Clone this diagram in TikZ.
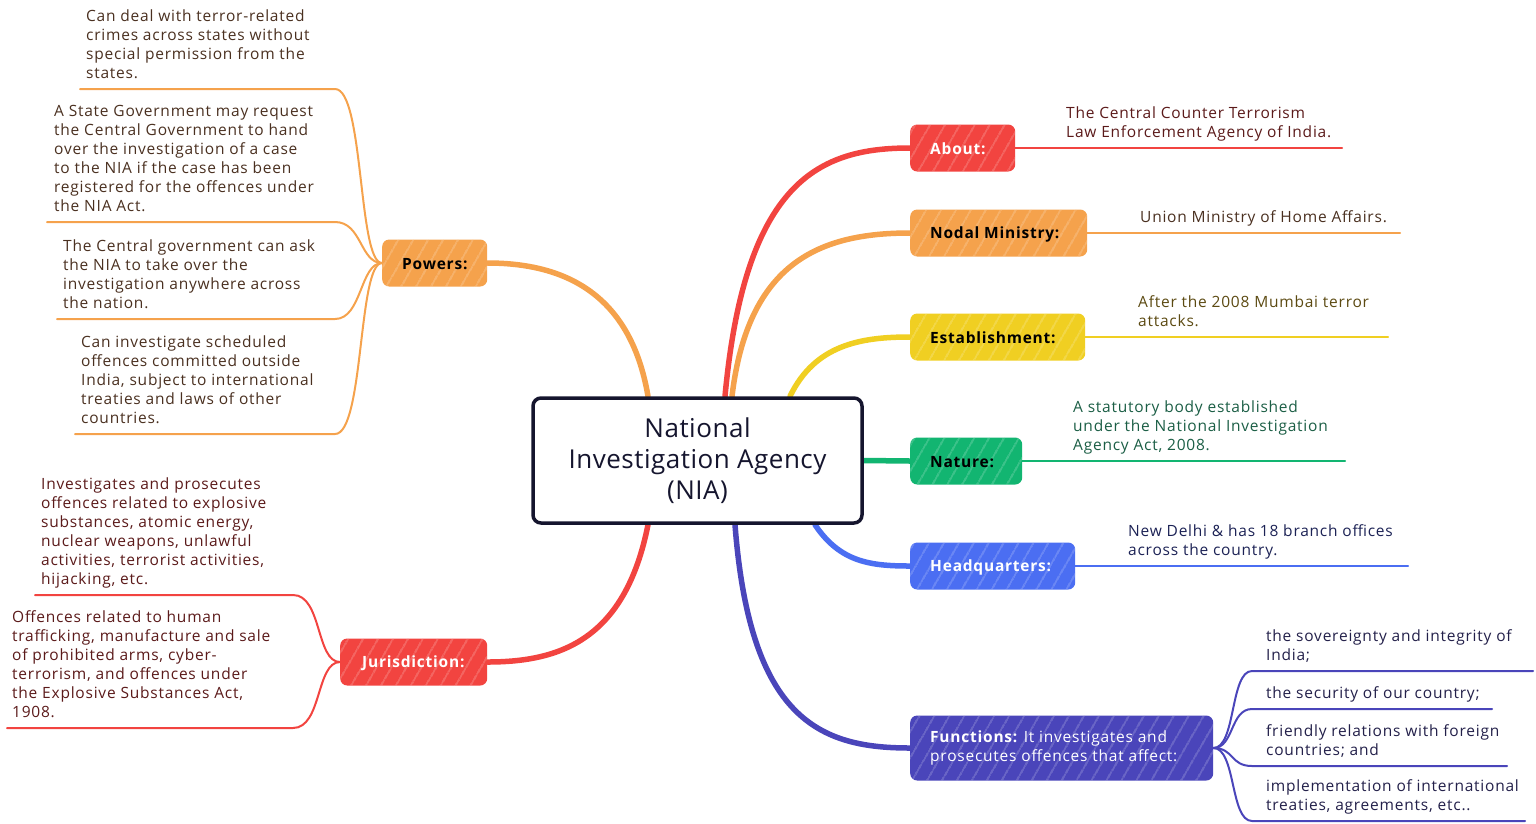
\documentclass[tikz,border=0pt]{standalone}
\usepackage{fontspec}
\setmainfont{Open Sans}[LetterSpace=5]
\newfontfamily\centerfont{Open Sans}[LetterSpace=2]
\usetikzlibrary{patterns.meta,backgrounds}
\definecolor{cred}{HTML}{F24440}
\definecolor{corange}{HTML}{F5A24C}
\definecolor{cyellow}{HTML}{F0CF22}
\definecolor{cgreen}{HTML}{12B571}
\definecolor{cblue}{HTML}{4B6EF2}
\definecolor{cindigo}{HTML}{4A45BA}
\definecolor{tred}{HTML}{5B1A1A}
\definecolor{torange}{HTML}{4A3020}
\definecolor{tyellow}{HTML}{5C4A12}
\definecolor{tgreen}{HTML}{1B5E45}
\definecolor{tblue}{HTML}{1C2255}
\definecolor{tindigo}{HTML}{23204A}
\definecolor{cnavy}{HTML}{15152E}
\tikzset{
  branchbox/.style={fill=#1, draw=none, rounded corners=7pt, minimum height=47pt, inner sep=0pt,
    postaction={pattern={Lines[angle=60,distance=13pt,line width=0.7pt]}, pattern color=white!50!#1}},
  btext/.style={font=\fontsize{15.5}{19}\selectfont\bfseries, inner sep=0pt, align=left},
  lt/.style={font=\fontsize{15.5}{19}\selectfont, inner sep=0pt, align=left, anchor=south west},
  mainline/.style={draw=#1, line width=5.5pt, line cap=round},
  leafline/.style={draw=#1, line width=2pt, line cap=round},
}
\begin{document}
\begin{tikzpicture}[x=1pt,y=-1pt]
\useasboundingbox (0,0) rectangle (1536,823);

% central node
\node[draw=cnavy, line width=3.5pt, fill=white, rounded corners=8pt, minimum width=329pt, minimum height=125pt,
  font=\centerfont\fontsize{26}{31}\selectfont, align=center, text=cnavy, inner sep=0pt] (nia) at (697.5,460.5)
  {National\\Investigation Agency\\(NIA)};

% branch boxes (right)
\node[branchbox=cred, minimum width=105pt, anchor=west] (about) at (910,148) {};
\node[btext, text=white, anchor=west] (about-t) at ([xshift=20pt,yshift=-1pt]about.west) {About:};
\node[branchbox=corange, minimum width=177pt, anchor=west] (nodal) at (910,233) {};
\node[btext, text=black, anchor=west] (nodal-t) at ([xshift=20pt,yshift=-1pt]nodal.west) {Nodal Ministry:};
\node[branchbox=cyellow, minimum width=175pt, anchor=west] (estab) at (910,337) {};
\node[btext, text=black, anchor=west] (estab-t) at ([xshift=20pt,yshift=-1pt]estab.west) {Establishment:};
\node[branchbox=cgreen, minimum width=112pt, anchor=west] (nature) at (910,461) {};
\node[btext, text=black, anchor=west] (nature-t) at ([xshift=20pt,yshift=-1pt]nature.west) {Nature:};
\node[branchbox=cblue, minimum width=165pt, anchor=west] (hq) at (910,566) {};
\node[btext, text=white, anchor=west] (hq-t) at ([xshift=20pt,yshift=-1pt]hq.west) {Headquarters:};
\node[branchbox=cindigo, minimum width=303pt, minimum height=65pt, anchor=west] (func) at (910,748) {};
\node[btext, text=white, anchor=west] (func-t) at ([xshift=20pt]func.west) {Functions: \mdseries It investigates and\\\mdseries prosecutes offences that affect:};
% branch boxes (left)
\node[branchbox=corange, minimum width=105pt, anchor=west] (powers) at (382,263) {};
\node[btext, text=black, anchor=west] (powers-t) at ([xshift=20pt,yshift=-1pt]powers.west) {Powers:};
\node[branchbox=cred, minimum width=147pt, anchor=west] (jur) at (340,662) {};
\node[btext, text=white, anchor=west] (jur-t) at ([xshift=22pt,yshift=-1pt]jur.west) {Jurisdiction:};

\begin{scope}[on background layer]
% main branches
\coordinate (sAbout) at ([xshift=27.5pt]nia.north);
\coordinate (sNodal) at ([xshift=34.5pt]nia.north);
\coordinate (sEstab) at ([xshift=92.5pt]nia.north);
\coordinate (sPow) at ([xshift=-49.5pt]nia.north);
\coordinate (sFunc) at ([xshift=37.5pt]nia.south);
\coordinate (sHQ) at ([xshift=117.5pt]nia.south);
\coordinate (sJur) at ([xshift=-49.5pt]nia.south);
\draw[mainline=cred] (sAbout) .. controls (745,180) and (820,148) .. (about.west);
\draw[mainline=corange] (sNodal) .. controls (748,262) and (820,233) .. (nodal.west);
\draw[mainline=cyellow] (sEstab) .. controls (815,345) and (860,337) .. (estab.west);
\draw[mainline=cgreen] (nia.east) -- (nature.west);
\draw[mainline=cblue] (sHQ) .. controls (840,562) and (870,566) .. (hq.west);
\draw[mainline=cindigo] (sFunc) .. controls (750,720) and (820,748) .. (func.west);
\draw[mainline=corange] (sPow) .. controls (630,290) and (560,263) .. (powers.east);
\draw[mainline=cred] (sJur) .. controls (625,640) and (560,662) .. (jur.east);
\end{scope}

% right leaves
\coordinate (aboutE) at (1342,148);
\draw[leafline=cred] (about.east) -- (aboutE);
\node[lt, text=tred] (about-l) at (1066,143) {The Central Counter Terrorism\\Law Enforcement Agency of India.\strut};
\coordinate (nodalE) at (1400,233);
\draw[leafline=corange] (nodal.east) -- (nodalE);
\node[lt, text=torange] (nodal-l) at (1140,228) {Union Ministry of Home Affairs.\strut};
\coordinate (estabE) at (1388,337);
\draw[leafline=cyellow] (estab.east) -- (estabE);
\node[lt, text=tyellow] (estab-l) at (1138,332) {After the 2008 Mumbai terror\\attacks.\strut};
\coordinate (natureE) at (1345,461);
\draw[leafline=cgreen] (nature.east) -- (natureE);
\node[lt, text=tgreen] (nature-l) at (1073,456) {A statutory body established\\under the National Investigation\\Agency Act, 2008.\strut};
\coordinate (hqE) at (1408,566);
\draw[leafline=cblue] (hq.east) -- (hqE);
\node[lt, text=tblue] (hq-l) at (1128,561) {New Delhi \& has 18 branch offices\\across the country.\strut};

% functions leaves
\coordinate (f1) at (1252,671); \coordinate (f1e) at (1533,671);
\coordinate (f2) at (1252,709); \coordinate (f2e) at (1492,709);
\coordinate (f3) at (1252,766); \coordinate (f3e) at (1507,766);
\coordinate (f4) at (1252,821); \coordinate (f4e) at (1525,821);
\draw[leafline=cindigo] (func.east) .. controls (1236,748) and (1230,671) .. (f1) -- (f1e);
\draw[leafline=cindigo] (func.east) .. controls (1234,748) and (1230,709) .. (f2) -- (f2e);
\draw[leafline=cindigo] (func.east) .. controls (1234,748) and (1230,766) .. (f3) -- (f3e);
\draw[leafline=cindigo] (func.east) .. controls (1236,748) and (1230,821) .. (f4) -- (f4e);
\node[lt, text=tindigo] (f1-l) at (1266,666) {the sovereignty and integrity of\\India;\strut};
\node[lt, text=tindigo] (f2-l) at (1266,704) {the security of our country;\strut};
\node[lt, text=tindigo] (f3-l) at (1266,761) {friendly relations with foreign\\countries; and\strut};
\node[lt, text=tindigo] (f4-l) at (1266,816) {implementation of international\\treaties, agreements, etc..\strut};

% powers leaves
\coordinate (p1) at (335,89);  \coordinate (p1e) at (80,89);
\coordinate (p2) at (335,222); \coordinate (p2e) at (47,222);
\coordinate (p3) at (335,319); \coordinate (p3e) at (57,319);
\coordinate (p4) at (335,434); \coordinate (p4e) at (75,434);
\draw[leafline=corange] (powers.west) .. controls (358,263) and (364,89) .. (p1) -- (p1e);
\draw[leafline=corange] (powers.west) .. controls (360,263) and (362,222) .. (p2) -- (p2e);
\draw[leafline=corange] (powers.west) .. controls (360,263) and (362,319) .. (p3) -- (p3e);
\draw[leafline=corange] (powers.west) .. controls (358,263) and (364,434) .. (p4) -- (p4e);
\node[lt, text=torange] (p1-l) at (86,84) {Can deal with terror-related\\crimes across states without\\special permission from the\\states.\strut};
\node[lt, text=torange] (p2-l) at (54,217) {A State Government may request\\the Central Government to hand\\over the investigation of a case\\to the NIA if the case has been\\registered for the offences under\\the NIA Act.\strut};
\node[lt, text=torange] (p3-l) at (63,314) {The Central government can ask\\the NIA to take over the\\investigation anywhere across\\the nation.\strut};
\node[lt, text=torange] (p4-l) at (81,429) {Can investigate scheduled\\offences committed outside\\India, subject to international\\treaties and laws of other\\countries.\strut};

% jurisdiction leaves
\coordinate (j1) at (293,595); \coordinate (j1e) at (35,595);
\coordinate (j2) at (293,728); \coordinate (j2e) at (7,728);
\draw[leafline=cred] (jur.west) .. controls (316,662) and (322,595) .. (j1) -- (j1e);
\draw[leafline=cred] (jur.west) .. controls (316,662) and (322,728) .. (j2) -- (j2e);
\node[lt, text=tred] (j1-l) at (41,590) {Investigates and prosecutes\\offences related to explosive\\substances, atomic energy,\\nuclear weapons, unlawful\\activities, terrorist activities,\\hijacking, etc.\strut};
\node[lt, text=tred] (j2-l) at (12,723) {Offences related to human\\trafficking, manufacture and sale\\of prohibited arms, cyber-\\terrorism, and offences under\\the Explosive Substances Act,\\1908.\strut};
\end{tikzpicture}
\end{document}
